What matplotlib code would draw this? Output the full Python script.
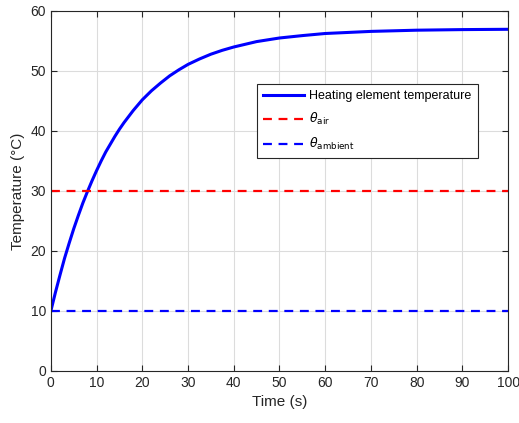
import matplotlib.pyplot as plt

plt.rcParams['font.family'] = ['Liberation Sans', 'DejaVu Sans']
plt.rcParams['mathtext.fontset'] = 'dejavusans'

# values
time_s = [0, 1, 2, 3, 4, 5, 6, 7, 8, 9, 10, 11, 12, 13, 14, 15, 16, 17, 18, 19,
          20, 22, 24, 26, 28, 30, 32.5, 35, 37.5, 40, 45, 50, 55, 60, 70, 80, 90, 100]
heater_temp = [10.0, 13.1, 16.0, 18.8, 21.3, 23.7, 25.9, 28.0, 29.9, 31.7, 33.4,
               35.0, 36.5, 37.8, 39.1, 40.3, 41.4, 42.4, 43.4, 44.3, 45.2,
               46.7, 48.0, 49.2, 50.2, 51.1, 52.0, 52.8, 53.45, 54.0, 54.9,
               55.5, 55.9, 56.25, 56.6, 56.8, 56.9, 56.95]
theta_air = 30
theta_ambient = 10

fig = plt.figure(figsize=(5.19, 4.23), dpi=100)
ax = fig.add_axes([0.098, 0.123, 0.881, 0.851])

ax.plot(time_s, heater_temp, color='#0000ff', linewidth=2.2,
        label='Heating element temperature')
ax.axhline(theta_air, color='#ff0000', linestyle=(0, (4, 3)), linewidth=1.6,
           label=r'$\theta_{\mathrm{air}}$')
ax.axhline(theta_ambient, color='#0000ff', linestyle=(0, (4, 3)), linewidth=1.6,
           label=r'$\theta_{\mathrm{ambient}}$')

ax.set_xlim(0, 100)
ax.set_ylim(0, 60)
ax.set_xticks(range(0, 101, 10))
ax.set_yticks(range(0, 61, 10))
ax.grid(True, color='#dcdcdc', linewidth=0.8)
ax.set_axisbelow(True)
ax.tick_params(direction='in', top=True, right=True, labelsize=10,
               colors='#262626', length=4)
for s in ax.spines.values():
    s.set_color('#262626')
    s.set_linewidth(0.8)

ax.set_xlabel('Time (s)', fontsize=11, color='#262626')
ax.set_ylabel('Temperature (°C)', fontsize=11, color='#262626')

leg = ax.legend(loc='upper right', bbox_to_anchor=(0.934, 0.797), fontsize=9,
                fancybox=False, framealpha=1, edgecolor='#262626',
                handlelength=3.3, handletextpad=0.4, borderaxespad=0,
                labelspacing=0.7, borderpad=0.5)
leg.get_frame().set_linewidth(0.8)

fig.savefig('out.png', dpi=100)
